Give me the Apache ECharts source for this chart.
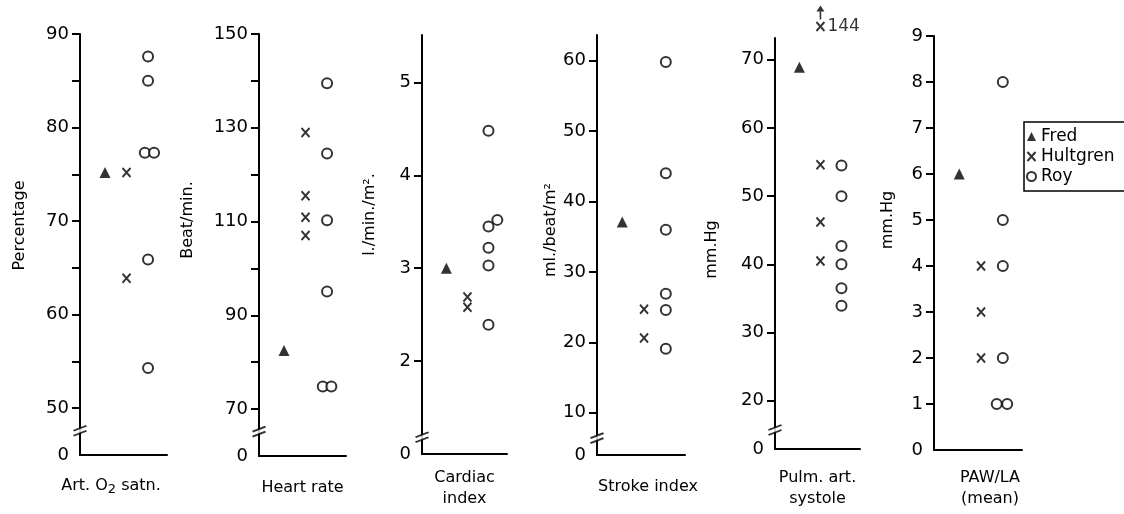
<!DOCTYPE html>
<html><head><meta charset="utf-8">
<script src="https://cdn.jsdelivr.net/npm/echarts@6/dist/echarts.min.js"></script>
<style>html,body{margin:0;padding:0;background:#fff}#c{width:1124px;height:514px}</style>
</head><body><div id="c"></div>
<script>
// ---------- data ----------
const groups = ['Fred', 'Hultgren', 'Roy'];
const groupX = [1, 2, 3];

// Panel 1: Art. O2 satn. (Percentage)
const o2Fred = [75.2];
const o2Hultgren = [75.2, 63.9];
const o2Roy = [87.6, 85.0, 77.3, 77.3, 65.9, 54.3];
const o2RoyJitter = [0, 0, -0.15, 0.28, 0, 0];
const o2Ticks = [50, 55, 60, 65, 70, 75, 80, 85, 90];
const o2Labels = [50, 60, 70, 80, 90];

// Panel 2: Heart rate (Beat/min.)
const hrFred = [82.5];
const hrHultgren = [129.0, 115.5, 110.9, 107.0];
const hrRoy = [139.5, 124.5, 110.3, 95.1, 74.8, 74.8];
const hrRoyJitter = [0, 0, 0, 0, -0.2, 0.2];
const hrTicks = [70, 80, 90, 100, 110, 120, 130, 140, 150];
const hrLabels = [70, 90, 110, 130, 150];

// Panel 3: Cardiac index (l./min./m2)
const ciFred = [3.0];
const ciHultgren = [2.69, 2.58];
const ciRoy = [4.48, 3.52, 3.45, 3.22, 3.03, 2.39];
const ciRoyJitter = [0, 0.42, 0, 0, 0, 0];
const ciTicks = [2, 3, 4, 5];
const ciLabels = [2, 3, 4, 5];

// Panel 4: Stroke index (ml./beat/m2)
const siFred = [37.1];
const siHultgren = [24.7, 20.6];
const siRoy = [59.8, 44.0, 36.0, 26.9, 24.6, 19.1];
const siRoyJitter = [0, 0, 0, 0, 0, 0];
const siTicks = [10, 20, 30, 40, 50, 60];
const siLabels = [10, 20, 30, 40, 50, 60];

// Panel 5: Pulm. art. systole (mm.Hg)
const pasFred = [68.9];
const pasHultgren = [54.6, 46.2, 40.5];
const pasHultgrenOffScale = [144];
const pasOffScaleShownAt = [74.9];
const pasRoy = [54.5, 50.0, 42.7, 40.0, 36.5, 33.9];
const pasRoyJitter = [0, 0, 0, 0, 0, 0];
const pasTicks = [20, 30, 40, 50, 60, 70];
const pasLabels = [20, 30, 40, 50, 60, 70];

// Panel 6: PAW/LA (mean) (mm.Hg)
const pawFred = [6];
const pawHultgren = [4, 3, 2];
const pawRoy = [8, 5, 4, 2, 1, 1];
const pawRoyJitter = [0, 0, 0, 0, -0.28, 0.2];
const pawTicks = [1, 2, 3, 4, 5, 6, 7, 8, 9];
const pawLabels = [1, 2, 3, 4, 5, 6, 7, 8, 9];

// ---------- layout ----------
const FONT = 'DejaVu Sans';
const panels = [
  {xName: '{a|Art. O}{s|2}{a| satn.}', yName: 'Percentage', fred: o2Fred, hult: o2Hultgren, roy: o2Roy, jit: o2RoyJitter,
   min: 45, max: 90, ticks: o2Ticks, labels: o2Labels, brk: 47.6,
   grid: {left: 80, top: 34, width: 87, height: 421}, yGap: 52, xGap: 20, yPad: [0, 0, 0, 38], xPad: [0, 25, 0, 0]},
  {xName: 'Heart rate', yName: 'Beat/min.', fred: hrFred, hult: hrHultgren, roy: hrRoy, jit: hrRoyJitter,
   min: 60, max: 150, ticks: hrTicks, labels: hrLabels, brk: 65.2,
   grid: {left: 259, top: 34, width: 87, height: 422}, yGap: 63, xGap: 21, yPad: [0, 0, 0, 50], xPad: 0},
  {xName: 'Cardiac\nindex', yName: 'l./min./m².', fred: ciFred, hult: ciHultgren, roy: ciRoy, jit: ciRoyJitter,
   min: 1, max: 5.51, ticks: ciTicks, labels: ciLabels, brk: 1.18,
   grid: {left: 422, top: 35, width: 85, height: 420}, yGap: 44, xGap: 13, yPad: [0, 0, 0, 60], xPad: 0},
  {xName: 'Stroke index', yName: 'ml./beat/m²', fred: siFred, hult: siHultgren, roy: siRoy, jit: siRoyJitter,
   min: 4, max: 63.65, ticks: siTicks, labels: siLabels, brk: 6.4,
   grid: {left: 597, top: 35, width: 88, height: 420}, yGap: 37, xGap: 21, yPad: [0, 0, 0, 30], xPad: [0, 0, 0, 14]},
  {xName: 'Pulm. art.\nsystole', yName: 'mm.Hg', fred: pasFred, hult: pasHultgren, roy: pasRoy, jit: pasRoyJitter,
   min: 12.9, max: 73.2, ticks: pasTicks, labels: pasLabels, brk: 15.7,
   grid: {left: 775, top: 38, width: 85, height: 424}, yGap: 55, xGap: 18, yPad: [0, 12, 0, 0], xPad: 0,
   off: pasHultgrenOffScale, offAt: pasOffScaleShownAt},
  {xName: 'PAW/LA\n(mean)', yName: 'mm.Hg', fred: pawFred, hult: pawHultgren, roy: pawRoy, jit: pawRoyJitter,
   min: 0, max: 9, ticks: pawTicks, labels: pawLabels, brk: null,
   grid: {left: 934, top: 36, width: 88, height: 425}, yGap: 38, xGap: 17, yPad: [0, 0, 0, 46], xPad: [0, 0, 0, 24]}
];

const X_MIN = -0.16, X_MAX = 3.88;
const X_PATH = 'path://M0,0L8,9M8,0L0,9';
const BREAK_FILL = 'path://M0,5L12,0L12,5L0,10Z';
const BREAK_LINES = 'path://M0,5L12,0M0,10L12,5';
const ARROW = 'path://M4,0L8,6L4.8,6L4.8,14L3.2,14L3.2,6L0,6Z';

const grids = [], xAxes = [], yAxes = [], series = [];
panels.forEach((p, i) => {
  grids.push(Object.assign({}, p.grid));
  xAxes.push({
    type: 'value', gridIndex: i, min: X_MIN, max: X_MAX,
    axisLine: {show: true, onZero: false, lineStyle: {color: '#000', width: 2}},
    axisTick: {show: false}, axisLabel: {show: false}, splitLine: {show: false},
    name: p.xName, nameLocation: 'middle', nameGap: p.xGap,
    nameTextStyle: {color: '#000', fontFamily: FONT, fontSize: 16, lineHeight: 21, padding: p.xPad,
      rich: {a: {color: '#000', fontFamily: FONT, fontSize: 16}, s: {color: '#000', fontFamily: FONT, fontSize: 13, padding: [8, 0, 0, 0]}}}
  });
  const mn = p.min;
  yAxes.push({
    type: 'value', gridIndex: i, min: p.min, max: p.max,
    axisLine: {show: true, onZero: false, lineStyle: {color: '#000', width: 2}},
    axisTick: {show: true, inside: false, length: 8, lineStyle: {color: '#000', width: 2}, customValues: p.ticks},
    axisLabel: {show: true, margin: 11, color: '#000', fontFamily: FONT, fontSize: 18,
      customValues: [p.min].concat(p.labels),
      formatter: v => (Math.abs(v - mn) < 1e-9 ? '0' : String(v))},
    splitLine: {show: false},
    name: p.yName, nameLocation: 'middle', nameGap: p.yGap,
    nameTextStyle: {color: '#000', fontFamily: FONT, fontSize: 16, padding: p.yPad}
  });
  const common = {type: 'scatter', xAxisIndex: i, yAxisIndex: i, silent: true, clip: false, animation: false};
  series.push(Object.assign({}, common, {
    name: groups[0], symbol: 'triangle', symbolSize: 11,
    itemStyle: {color: '#000'},
    data: p.fred.map(v => [groupX[0], v])
  }));
  series.push(Object.assign({}, common, {
    name: groups[1], symbol: X_PATH, symbolSize: [8, 9],
    itemStyle: {color: 'rgba(0,0,0,0)', borderColor: '#000', borderWidth: 2},
    data: p.hult.map(v => [groupX[1], v])
  }));
  series.push(Object.assign({}, common, {
    name: groups[2], symbol: 'circle', symbolSize: 10,
    itemStyle: {color: '#fff', borderColor: '#000', borderWidth: 2},
    data: p.roy.map((v, k) => [groupX[2] + p.jit[k], v])
  }));
  if (p.off) {
    series.push(Object.assign({}, common, {
      name: groups[1], symbol: X_PATH, symbolSize: [8, 9],
      itemStyle: {color: 'rgba(0,0,0,0)', borderColor: '#000', borderWidth: 2},
      label: {show: true, position: 'right', distance: 2, color: '#000', fontFamily: FONT, fontSize: 17,
        formatter: q => String(q.value[2])},
      data: p.off.map((v, k) => [groupX[1], p.offAt[k], v])
    }));
    series.push(Object.assign({}, common, {
      name: 'offscale-arrow', symbol: ARROW, symbolSize: [8, 14], symbolOffset: [0, -14],
      itemStyle: {color: '#000'},
      data: p.off.map((v, k) => [groupX[1], p.offAt[k]])
    }));
  }
  if (p.brk !== null) {
    series.push(Object.assign({}, common, {
      name: 'break-fill', symbol: BREAK_FILL, symbolSize: [13, 10], z: 5,
      itemStyle: {color: '#fff'},
      data: [[X_MIN, p.brk]]
    }));
    series.push(Object.assign({}, common, {
      name: 'break-lines', symbol: BREAK_LINES, symbolSize: [13, 10], z: 6,
      itemStyle: {color: 'rgba(0,0,0,0)', borderColor: '#000', borderWidth: 2},
      data: [[X_MIN, p.brk]]
    }));
  }
});

const chart = echarts.init(document.getElementById('c'), null, {renderer: 'canvas'});
chart.setOption({
  backgroundColor: '#fff',
  animation: false,
  grid: grids, xAxis: xAxes, yAxis: yAxes, series: series,
  legend: {
    data: groups, orient: 'vertical', left: 1024, top: 122,
    borderColor: '#000', borderWidth: 1.5, borderRadius: 0,
    padding: [6, 40, 6, 2], itemGap: 3, itemWidth: 9, itemHeight: 9,
    selectedMode: false,
    textStyle: {color: '#000', fontFamily: FONT, fontSize: 17}
  }
});
</script></body></html>
